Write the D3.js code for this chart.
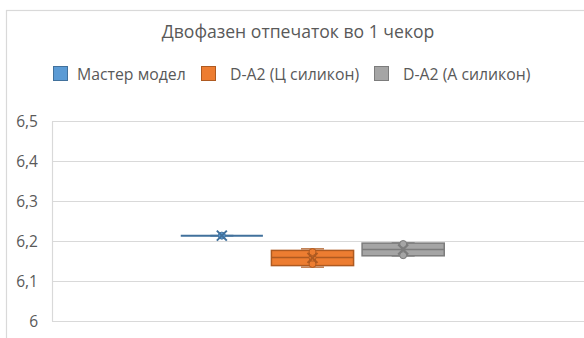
<!DOCTYPE html>
<html>
<head>
<meta charset="utf-8">
<script src="https://cdn.jsdelivr.net/npm/d3@7"></script>
<style>
  html, body { margin: 0; padding: 0; background: #fff; }
  svg { display: block; font-family: "Open Sans", "Noto Sans", sans-serif; }
</style>
</head>
<body>
<svg id="chart" width="584" height="338"></svg>
<script>
// Chart data
const title = "Двофазен отпечаток во 1 чекор";
const seriesNames = ["Мастер модел", "D-A2 (Ц силикон)", "D-A2 (А силикон)"];
const masterValues = [6.213, 6.213, 6.213];
const cSiliconValues = [6.134, 6.142, 6.158, 6.172, 6.18];
const aSiliconValues = [6.162, 6.164, 6.192, 6.195];
const yTicks = [6, 6.1, 6.2, 6.3, 6.4, 6.5];
const fills = ["#5B9BD5", "#ED7D31", "#A5A5A5"];
const strokes = ["#41719C", "#AE5A21", "#7C7C7C"];

const allValues = [masterValues, cSiliconValues, aSiliconValues];

// Exclusive quartile (same method as the spreadsheet box & whisker chart)
function quartileExc(sorted, p) {
  const n = sorted.length;
  const pos = (n + 1) * p;
  if (pos <= 1) return sorted[0];
  if (pos >= n) return sorted[n - 1];
  const lo = Math.floor(pos);
  return sorted[lo - 1] + (pos - lo) * (sorted[lo] - sorted[lo - 1]);
}

const stats = allValues.map((vals, i) => {
  const s = vals.slice().sort(d3.ascending);
  const q1 = quartileExc(s, 0.25), med = quartileExc(s, 0.5), q3 = quartileExc(s, 0.75);
  const iqr = q3 - q1;
  const lo = d3.min(s.filter(v => v >= q1 - 1.5 * iqr));
  const hi = d3.max(s.filter(v => v <= q3 + 1.5 * iqr));
  return { name: seriesNames[i], values: s, q1, med, q3, lo, hi, mean: d3.mean(s), i };
});

const svg = d3.select("#chart");
const plot = { left: 52, right: 584, top: 121, bottom: 320.7 };

// Chart frame
svg.append("rect")
  .attr("x", 6.5).attr("y", 10.5).attr("width", 700).attr("height", 500)
  .attr("fill", "#fff").attr("stroke", "#d9d9d9").attr("stroke-width", 1.2);

// Title
svg.append("text")
  .attr("x", 298).attr("y", 38)
  .attr("text-anchor", "middle")
  .attr("font-size", 17.6)
  .attr("fill", "#595959")
  .text(title);

// Legend
const legendItems = [
  { x: 53, tx: 77 },
  { x: 201, tx: 230 },
  { x: 374, tx: 403 }
];
const legend = svg.append("g");
legendItems.forEach((it, i) => {
  legend.append("rect")
    .attr("x", it.x + 0.5).attr("y", 66.5).attr("width", 14).attr("height", 14)
    .attr("fill", fills[i]).attr("stroke", strokes[i]).attr("stroke-width", 1);
  legend.append("text")
    .attr("x", it.tx).attr("y", 79.5)
    .attr("font-size", 15.8).attr("fill", "#595959")
    .text(seriesNames[i]);
});

// Scales
const y = d3.scaleLinear().domain([6, 6.5]).range([plot.bottom, plot.top]);
const x = d3.scaleBand().domain(seriesNames)
  .range([176.5, 448.5]).paddingInner(0.094).paddingOuter(0.047);

// Gridlines
svg.append("g")
  .selectAll("line").data(yTicks).join("line")
  .attr("x1", plot.left).attr("x2", plot.right)
  .attr("y1", d => Math.round(y(d)) + 0.5).attr("y2", d => Math.round(y(d)) + 0.5)
  .attr("stroke", "#d9d9d9").attr("stroke-width", 1.2);

svg.append("line")
  .attr("x1", plot.left + 0.5).attr("x2", plot.left + 0.5)
  .attr("y1", Math.round(y(6.5)) + 0.5).attr("y2", Math.round(y(6)) + 0.5)
  .attr("stroke", "#d9d9d9").attr("stroke-width", 1.2);

// Y axis labels
const yAxis = d3.axisLeft(y).tickValues(yTicks).tickSize(0).tickPadding(0)
  .tickFormat(d => d3.format(".1f")(d).replace(".", ",").replace(",0", ""));
const yg = svg.append("g").attr("transform", "translate(38,0)").call(yAxis);
yg.select(".domain").remove();
yg.selectAll("text").attr("font-size", 15.5).attr("fill", "#595959")
  .attr("font-family", "'Open Sans', 'Noto Sans', sans-serif").attr("dy", "0.35em");

// Boxes
const boxes = svg.append("g").selectAll("g").data(stats).join("g");
boxes.each(function (d) {
  const g = d3.select(this);
  const x0 = x(d.name), w = x.bandwidth(), cx = x0 + w / 2;
  const capW = w * 0.28;
  const fill = fills[d.i], stroke = strokes[d.i];

  // whiskers
  g.append("line").attr("x1", cx).attr("x2", cx).attr("y1", y(d.hi)).attr("y2", y(d.q3))
    .attr("stroke", stroke).attr("stroke-width", 1);
  g.append("line").attr("x1", cx).attr("x2", cx).attr("y1", y(d.q1)).attr("y2", y(d.lo))
    .attr("stroke", stroke).attr("stroke-width", 1);
  [d.hi, d.lo].forEach(v => {
    g.append("line").attr("x1", cx - capW / 2).attr("x2", cx + capW / 2)
      .attr("y1", y(v)).attr("y2", y(v))
      .attr("stroke", stroke).attr("stroke-width", 1.5).attr("opacity", 0.8);
  });

  // box
  const bh = Math.max(0, y(d.q1) - y(d.q3));
  g.append("rect").attr("x", x0).attr("y", y(d.q3)).attr("width", w).attr("height", bh)
    .attr("fill", fill).attr("stroke", stroke).attr("stroke-width", 1.5);
  // median
  g.append("line").attr("x1", x0).attr("x2", x0 + w).attr("y1", y(d.med)).attr("y2", y(d.med))
    .attr("stroke", stroke).attr("stroke-width", bh > 0 ? 1.5 : 2);

  // inner points (between the whisker ends)
  const inner = d.values.filter(v => v > d.lo && v < d.hi);
  g.selectAll("circle").data(inner.length ? inner : [d.med]).join("circle")
    .attr("cx", cx).attr("cy", v => y(v)).attr("r", 3.5)
    .attr("fill", fill).attr("stroke", stroke).attr("stroke-width", 1);

  // mean marker
  const m = 5, my = y(d.mean);
  g.append("path")
    .attr("d", `M${cx - m},${my - m}L${cx + m},${my + m}M${cx - m},${my + m}L${cx + m},${my - m}`)
    .attr("stroke", stroke).attr("stroke-width", 2).attr("fill", "none");
});
</script>
</body>
</html>
